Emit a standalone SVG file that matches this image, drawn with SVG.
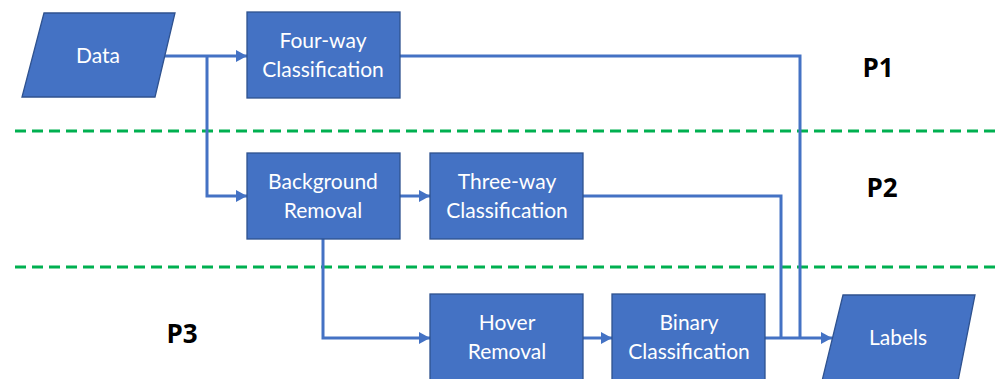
<svg xmlns="http://www.w3.org/2000/svg" width="1001" height="379" viewBox="0 0 1001 379">
<style>
.box{fill:#4472C4;stroke:#2F528F;stroke-width:1.3}
.lbl{font-family:Lato,"Open Sans","Liberation Sans",sans-serif;font-size:21px;fill:#FFFFFF;text-anchor:middle}
.phase{font-family:"Open Sans",Lato,"Liberation Sans",sans-serif;font-size:26px;font-weight:bold;fill:#000000;text-anchor:middle}
.conn{fill:none;stroke:#4472C4;stroke-width:3}
.sep{stroke:#00B050;stroke-width:3.2;stroke-dasharray:11 6;fill:none}
</style>
<defs>
<marker id="arr" markerUnits="userSpaceOnUse" markerWidth="12" markerHeight="12" refX="11" refY="6" orient="auto">
<path d="M0,0 L11,6 L0,12 Z" fill="#4472C4"/>
</marker>
</defs>
<g id="separators">
<line class="sep" x1="15" y1="131" x2="1001" y2="131"/>
<line class="sep" x1="15" y1="267" x2="1001" y2="267"/>
</g>
<g id="connectors">
<path class="conn" d="M165,56 H247" marker-end="url(#arr)"/>
<path class="conn" d="M207,56 V196 H247" marker-end="url(#arr)"/>
<path class="conn" d="M400,56 H800 V338"/>
<path class="conn" d="M400,196 H430" marker-end="url(#arr)"/>
<path class="conn" d="M583,196 H781 V338"/>
<path class="conn" d="M323,239 V338 H430" marker-end="url(#arr)"/>
<path class="conn" d="M583,338 H612" marker-end="url(#arr)"/>
<path class="conn" d="M765,338 H832" marker-end="url(#arr)"/>
</g>
<g id="data">
<polygon class="box" points="44,13 175,13 155,97 22,97"/>
<text class="lbl" x="98" y="63">Data</text>
</g>
<g id="four-way">
<rect class="box" x="247" y="12" width="153" height="86"/>
<text class="lbl" x="323" y="48">Four-way</text>
<text class="lbl" x="323" y="77">Classification</text>
</g>
<g id="background-removal">
<rect class="box" x="247" y="153" width="153" height="86"/>
<text class="lbl" x="323" y="189">Background</text>
<text class="lbl" x="323" y="218">Removal</text>
</g>
<g id="three-way">
<rect class="box" x="430" y="153" width="153" height="86"/>
<text class="lbl" x="507" y="189">Three-way</text>
<text class="lbl" x="507" y="218">Classification</text>
</g>
<g id="hover-removal">
<rect class="box" x="430" y="294" width="153" height="90"/>
<text class="lbl" x="507" y="330">Hover</text>
<text class="lbl" x="507" y="359">Removal</text>
</g>
<g id="binary">
<rect class="box" x="612" y="294" width="153" height="90"/>
<text class="lbl" x="689" y="330">Binary</text>
<text class="lbl" x="689" y="359">Classification</text>
</g>
<g id="labels">
<polygon class="box" points="843,295 975,295 958,381 822,381"/>
<text class="lbl" x="898" y="345">Labels</text>
</g>
<g id="phase-labels">
<text class="phase" x="878" y="77">P1</text>
<text class="phase" x="882" y="197">P2</text>
<text class="phase" x="182" y="343">P3</text>
</g>
</svg>
